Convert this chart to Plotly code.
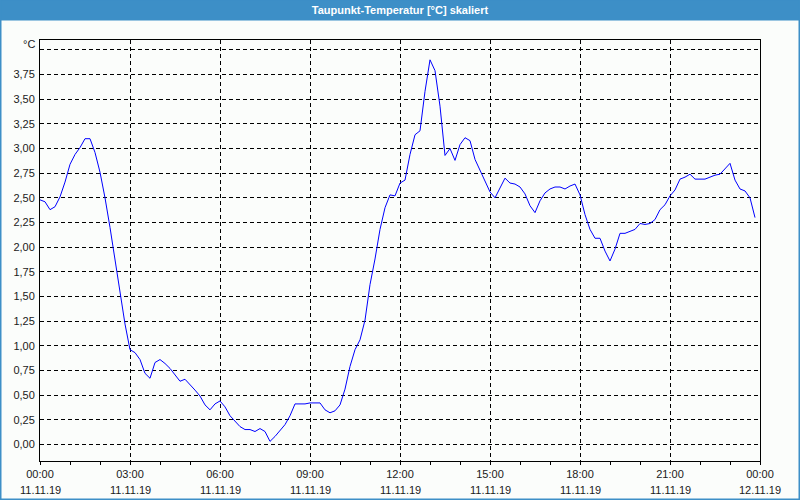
import pandas as pd
import plotly.graph_objects as go

# Dew point temperature, 10-minute samples from 11.11.19 00:00
dew_point = [
    2.48, 2.46, 2.38, 2.41, 2.51, 2.66, 2.84, 2.94, 3.01, 3.10, 3.10, 2.96,
    2.76, 2.50, 2.20, 1.88, 1.55, 1.22, 0.96, 0.93, 0.86, 0.72, 0.67, 0.83,
    0.86, 0.82, 0.77, 0.70, 0.64, 0.66, 0.61, 0.55, 0.49, 0.40, 0.35, 0.41,
    0.44, 0.38, 0.29, 0.23, 0.18, 0.15, 0.15, 0.13, 0.16, 0.13, 0.03, 0.08,
    0.14, 0.20, 0.29, 0.41, 0.41, 0.41, 0.42, 0.42, 0.42, 0.35, 0.32, 0.34,
    0.40, 0.56, 0.79, 0.96, 1.06, 1.26, 1.62, 1.88, 2.18, 2.40, 2.53, 2.52,
    2.65, 2.68, 2.94, 3.14, 3.18, 3.58, 3.90, 3.79, 3.43, 2.93, 3.00, 2.88,
    3.04, 3.11, 3.08, 2.89, 2.78, 2.66, 2.56, 2.50, 2.60, 2.70, 2.65, 2.64,
    2.61, 2.54, 2.42, 2.35, 2.47, 2.55, 2.59, 2.61, 2.61, 2.59, 2.62, 2.64,
    2.53, 2.33, 2.18, 2.09, 2.09, 1.96, 1.86, 1.98, 2.14, 2.14, 2.16, 2.18,
    2.24, 2.23, 2.24, 2.28, 2.38, 2.43, 2.52, 2.58, 2.69, 2.71, 2.74, 2.69,
    2.69, 2.69, 2.71, 2.73, 2.74, 2.79, 2.85, 2.68, 2.59, 2.57, 2.50, 2.30,
]
times = pd.date_range("2019-11-11 00:00", periods=len(dew_point), freq="10min")

x_tick_vals = ["2019-11-11 00:00", "2019-11-11 03:00", "2019-11-11 06:00",
               "2019-11-11 09:00", "2019-11-11 12:00", "2019-11-11 15:00",
               "2019-11-11 18:00", "2019-11-11 21:00", "2019-11-12 00:00"]
time_labels = ["00:00", "03:00", "06:00", "09:00", "12:00", "15:00", "18:00", "21:00", "00:00"]
date_labels = ["11.11.19"] * 8 + ["12.11.19"]

y_tick_vals = [0.0, 0.25, 0.5, 0.75, 1.0, 1.25, 1.5, 1.75, 2.0, 2.25, 2.5, 2.75,
               3.0, 3.25, 3.5, 3.75, 4.0]
y_tick_text = ["0,00", "0,25", "0,50", "0,75", "1,00", "1,25", "1,50", "1,75",
               "2,00", "2,25", "2,50", "2,75", "3,00", "3,25", "3,50", "3,75", ""]

title_text = "Taupunkt-Temperatur [°C] skaliert"
unit_text = "°C"

W, H = 800, 500
ML, MR, MT, MB = 40, 40, 40, 39
PW, PH = W - ML - MR, H - MT - MB


def fx(px):
    return (px - ML) / PW


def fy(py):
    return (H - MB - py) / PH


FONT = "Liberation Sans Narrow, Liberation Sans, Arial, sans-serif"
BG = "#fbfdfb"
BLUE_BAR = "#3d8fc7"
TXT = "#1a1a1a"

fig = go.Figure()
fig.add_trace(go.Scatter(
    x=times, y=dew_point, mode="lines",
    line=dict(color="#0000ff", width=1),
    hoverinfo="skip", showlegend=False,
))

annotations = []
for tv, dl in zip(x_tick_vals, date_labels):
    annotations.append(dict(
        x=tv, xref="x", y=0, yref="paper", yshift=-29,
        text=dl, showarrow=False, xanchor="center", yanchor="middle",
        font=dict(family=FONT, size=11, color=TXT),
    ))
annotations.append(dict(
    x=0, xref="paper", y=4.0, yref="y", xshift=-3, yshift=6,
    text=unit_text, showarrow=False, xanchor="right", yanchor="middle",
    font=dict(family=FONT, size=11, color=TXT),
))

shapes = [
    # title bar
    dict(type="rect", xref="paper", yref="paper",
         x0=fx(0), x1=fx(W), y0=fy(20.5), y1=fy(0),
         fillcolor=BLUE_BAR, line=dict(width=0), layer="below"),
    # outer frame
    dict(type="rect", xref="paper", yref="paper",
         x0=fx(0.75), x1=fx(W - 0.75), y0=fy(H - 0.75), y1=fy(0),
         fillcolor="rgba(0,0,0,0)", line=dict(color=BLUE_BAR, width=1.5)),
]

fig.update_layout(
    width=W, height=H,
    margin=dict(l=ML, r=MR, t=MT, b=MB, pad=0),
    paper_bgcolor=BG, plot_bgcolor=BG,
    title=dict(text="<b>" + title_text + "</b>", x=0.5, xanchor="center",
               y=1 - 10.5 / H, yanchor="middle", yref="container",
               font=dict(family="Liberation Sans, Arial, sans-serif", size=11, color="white")),
    font=dict(family=FONT, size=11, color=TXT),
    annotations=annotations,
    shapes=shapes,
    xaxis=dict(
        type="date",
        range=["2019-11-11 00:00", "2019-11-12 00:00"],
        tickvals=x_tick_vals, ticktext=time_labels,
        ticks="outside", ticklen=3, tickwidth=1, tickcolor="black",
        minor=dict(dtick=3600000, ticks="outside", ticklen=3, tickcolor="black", showgrid=False),
        showgrid=True, gridcolor="black", gridwidth=1, griddash="4px,3px",
        showline=True, linecolor="black", linewidth=1, mirror=True,
        zeroline=False, fixedrange=True,
        tickfont=dict(family=FONT, size=11, color=TXT),
        ticklabelstandoff=0,
    ),
    yaxis=dict(
        range=[-0.169, 4.101],
        tickvals=y_tick_vals, ticktext=y_tick_text,
        ticks="", showgrid=True, gridcolor="black", gridwidth=1, griddash="4px,3px",
        showline=True, linecolor="black", linewidth=1, mirror=True,
        zeroline=False, fixedrange=True,
        tickfont=dict(family=FONT, size=11, color=TXT),
        ticklabelstandoff=2,
    ),
)

fig.write_html("out.html", config={"displayModeBar": False})
